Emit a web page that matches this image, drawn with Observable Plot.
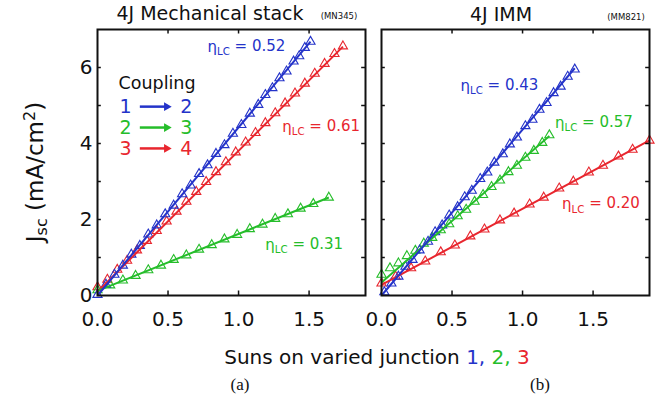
<!DOCTYPE html>
<html><head><meta charset="utf-8">
<script src="https://cdn.jsdelivr.net/npm/d3@7"></script>
<script src="https://cdn.jsdelivr.net/npm/@observablehq/plot@0.6"></script>
<style>
html,body{margin:0;padding:0;background:#fff;}
#wrap{position:relative;width:668px;height:404px;overflow:hidden;font-family:"DejaVu Sans",sans-serif;color:#111;background:#fff;}
#chart{position:absolute;left:0;top:0;}
.ov{position:absolute;transform:translate(-50%,-50%);white-space:nowrap;line-height:1;}
</style></head><body><div id="wrap"><div id="chart"></div></div>
<script>
// ---------- data ----------
const panels = ["a", "b"];
const panelTitles = ["4J Mechanical stack", "4J IMM"];
const panelSamples = ["(MN345)", "(MM821)"];
const seriesColors = ["#2433c9", "#25bd2a", "#e8262e"]; // 1→2, 2→3, 3→4
const couplingFrom = ["1", "2", "3"];
const couplingTo = ["2", "3", "4"];

// Panel (a) 4J Mechanical stack: Jsc (mA/cm2) vs suns on varied junction
const a12_x = [0.00,0.06,0.12,0.18,0.24,0.30,0.36,0.42,0.48,0.54,0.60,0.66,0.72,0.78,0.84,0.90,0.96,1.02,1.08,1.14,1.19,1.24,1.29,1.34,1.39,1.43,1.47,1.51];
const a12_y = [0.02,0.29,0.55,0.79,1.08,1.31,1.61,1.85,2.14,2.37,2.67,2.90,3.20,3.43,3.73,3.96,4.26,4.49,4.79,5.02,5.28,5.46,5.72,5.90,6.16,6.30,6.52,6.68];
const a23_x = [0.00,0.09,0.18,0.27,0.36,0.45,0.54,0.63,0.72,0.81,0.90,0.99,1.08,1.17,1.26,1.35,1.44,1.53,1.64];
const a23_y = [0.14,0.27,0.40,0.52,0.67,0.79,0.94,1.06,1.21,1.33,1.48,1.60,1.75,1.87,2.02,2.14,2.29,2.41,2.58];
const a34_x = [0.00,0.07,0.14,0.21,0.28,0.35,0.42,0.49,0.56,0.63,0.70,0.77,0.84,0.91,0.98,1.05,1.12,1.19,1.26,1.33,1.40,1.47,1.54,1.61,1.68,1.74];
const a34_y = [0.22,0.42,0.68,0.92,1.19,1.44,1.70,1.95,2.21,2.47,2.73,2.99,3.25,3.51,3.77,4.03,4.28,4.54,4.80,5.06,5.32,5.58,5.84,6.10,6.36,6.56];
// Panel (b) 4J IMM
const b12_x = [0.02,0.07,0.12,0.17,0.22,0.27,0.33,0.38,0.43,0.48,0.54,0.59,0.64,0.70,0.75,0.80,0.86,0.91,0.96,1.02,1.07,1.12,1.17,1.22,1.27,1.32,1.37];
const b12_y = [0.09,0.32,0.50,0.76,0.94,1.19,1.42,1.67,1.85,2.11,2.33,2.59,2.76,3.07,3.24,3.50,3.72,3.98,4.16,4.46,4.63,4.89,5.07,5.33,5.50,5.76,5.95];
const b23_x = [0.00,0.06,0.12,0.18,0.24,0.30,0.36,0.42,0.48,0.54,0.60,0.66,0.72,0.78,0.84,0.90,0.96,1.02,1.08,1.14,1.19];
const b23_y = [0.55,0.72,0.85,1.04,1.18,1.37,1.52,1.72,1.88,2.09,2.26,2.47,2.65,2.86,3.03,3.25,3.42,3.63,3.81,4.02,4.22];
const b34_x = [0.00,0.10,0.21,0.31,0.42,0.52,0.63,0.73,0.84,0.94,1.05,1.15,1.26,1.36,1.47,1.57,1.68,1.78,1.90];
const b34_y = [0.32,0.50,0.72,0.90,1.14,1.32,1.56,1.74,1.98,2.16,2.40,2.58,2.82,3.00,3.24,3.42,3.66,3.84,4.08];

// linear fits [x1, y1, x2, y2] per coupling (1→2, 2→3, 3→4)
const fitA = [[0, 0.00, 1.51, 6.68], [0, 0.12, 1.64, 2.58], [0, 0.10, 1.74, 6.55]];
const fitB = [[0, 0.00, 1.37, 5.98], [0, 0.34, 1.19, 4.20], [0, 0.28, 1.90, 4.08]];
const etaA = [0.52, 0.31, 0.61];
const etaB = [0.43, 0.57, 0.20];

const xTicks = [0, 0.5, 1.0, 1.5];
const xInnerTicks = [0.5, 1.0, 1.5];
const yTicks = [0, 2, 4, 6];
const yInnerTicks = [1, 2, 3, 4, 5, 6];

// annotation anchors (data units)
const etaPosA = [[0.78, 6.53], [1.19, 1.32], [1.31, 4.42]];
const etaPosB = [[0.56, 5.50], [1.23, 4.53], [1.28, 2.39]];
const legendTitlePos = [0.149, 5.58];
const legendRowY = [4.97, 4.42, 3.87];
const legendFromX = 0.198, legendArrowX = [0.30, 0.49], legendToX = 0.63;

// ---------- build tables ----------
const raw = {a: [[a12_x, a12_y], [a23_x, a23_y], [a34_x, a34_y]], b: [[b12_x, b12_y], [b23_x, b23_y], [b34_x, b34_y]]};
const points = [];
for (const p of panels) raw[p].forEach(([xs, ys], c) => xs.forEach((x, i) => points.push({panel: p, c, color: seriesColors[c], x, y: ys[i]})));
const fits = [];
[["a", fitA], ["b", fitB]].forEach(([p, f]) => f.forEach(([x1, y1, x2, y2], c) => fits.push({panel: p, c, color: seriesColors[c], x1, y1, x2, y2})));
const etas = [];
[["a", etaA, etaPosA], ["b", etaB, etaPosB]].forEach(([p, e, pos]) => e.forEach((v, c) => etas.push({panel: p, color: seriesColors[c], x: pos[c][0], y: pos[c][1], label: "η = " + v.toFixed(2)})));
const legend = couplingFrom.map((f, i) => ({panel: "a", color: seriesColors[i], from: f, to: couplingTo[i], y: legendRowY[i]}));

// ---------- layout ----------
const W = 668, H = 404, mT = 29, mB = 109, mL = 97, mR = 18;
const PAD = 0.055;
const FH = H - mT - mB;
const BW = (W - mL - mR) / (2 - PAD) * (1 - PAD);
const T = 4.5;

const drawOrder = [2, 1, 0];
const plot = Plot.plot({
  width: W, height: H, marginTop: mT, marginBottom: mB, marginLeft: mL, marginRight: mR,
  x: {domain: [0, 1.9]},
  y: {domain: [0, 7]},
  fx: {domain: panels, paddingInner: PAD, paddingOuter: 0, axis: null},
  color: {type: "identity"},
  style: {fontFamily: "DejaVu Sans", fontSize: "20px", color: "#111", background: "transparent", overflow: "visible"},
  marks: [
    ...drawOrder.map(c => Plot.dot(points.filter(d => d.c === c), {fx: "panel", x: "x", y: "y", symbol: "triangle", r: 3.4, stroke: "color", strokeWidth: 1.1, fill: "none"})),
    ...drawOrder.map(c => Plot.link(fits.filter(d => d.c === c), {fx: "panel", x1: "x1", y1: "y1", x2: "x2", y2: "y2", stroke: "color", strokeWidth: 2})),
    Plot.text(etas, {fx: "panel", x: "x", y: "y", text: "label", fill: "color", textAnchor: "start", fontSize: 15}),
    Plot.text(["Coupling"], {fx: () => "a", x: () => legendTitlePos[0], y: () => legendTitlePos[1], text: d => d, textAnchor: "start", fontSize: 17.5, fill: "#111"}),
    Plot.text(legend, {fx: "panel", x: () => legendFromX, y: "y", text: "from", fill: "color", fontSize: 19}),
    Plot.text(legend, {fx: "panel", x: () => legendToX, y: "y", text: "to", fill: "color", fontSize: 19}),
    Plot.link(legend, {fx: "panel", x1: () => legendArrowX[0], x2: () => legendArrowX[1], y1: "y", y2: "y", stroke: "color", strokeWidth: 2.5}),
    Plot.dot(legend, {fx: "panel", x: () => legendArrowX[1], y: "y", symbol: "triangle2", rotate: 90, r: 4.2, fill: "color"}),
    Plot.ruleX(xInnerTicks, {x: d => d, insetTop: FH - T, stroke: "#111", strokeWidth: 1.5}),
    Plot.ruleX(xInnerTicks, {x: d => d, insetBottom: FH - T, stroke: "#111", strokeWidth: 1.5}),
    Plot.ruleY(yInnerTicks, {y: d => d, insetRight: BW - T, stroke: "#111", strokeWidth: 1.5}),
    Plot.ruleY(yInnerTicks, {y: d => d, insetLeft: BW - T, stroke: "#111", strokeWidth: 1.5}),
    Plot.frame({stroke: "#111", strokeWidth: 2}),
    Plot.axisX(xTicks, {tickSize: 0, tickPadding: 16, tickFormat: d3.format(".1f"), fontSize: 20, label: null, fill: "#111"}),
    Plot.axisY(yTicks, {tickSize: 0, tickPadding: 5, fontSize: 20, label: null, fill: "#111"})
  ]
});
document.getElementById("chart").appendChild(plot);

// subscript "LC" in η labels
d3.select(plot).selectAll("text").filter(function() { return this.textContent.startsWith("η = "); }).each(function() {
  const val = this.textContent.split("=")[1].trim();
  const s = d3.select(this);
  s.text(null);
  s.append("tspan").text("η");
  s.append("tspan").attr("font-size", "0.68em").attr("dy", "0.3em").text("LC");
  s.append("tspan").attr("dy", "-0.3em").text(" = " + val);
});

// ---------- text outside the frames ----------
const wrap = document.getElementById("wrap");
function place(html, x, y, css) {
  const d = document.createElement("div");
  d.className = "ov"; d.innerHTML = html;
  d.style.left = x + "px"; d.style.top = y + "px";
  if (css) d.style.cssText += css;
  wrap.appendChild(d);
}
place(panelTitles[0], 210, 13, "font-size:19px;");
place(panelSamples[0], 339, 16, "font-size:8.5px;");
place(panelTitles[1], 501, 14, "font-size:19px;");
place(panelSamples[1], 626, 17, "font-size:8.5px;");
place(`J<sub style="font-size:0.7em;vertical-align:-0.25em">sc</sub> (mA/cm<sup style="font-size:0.7em;vertical-align:0.5em">2</sup>)`, 36, 172, "font-size:23px;transform:translate(-50%,-50%) rotate(-90deg);");
place(`Suns on varied junction <span style="color:${seriesColors[0]}">1,</span> <span style="color:${seriesColors[1]}">2,</span> <span style="color:${seriesColors[2]}">3</span>`, 377, 357, "font-size:20px;");
place("(a)", 240, 384, "font-family:'Liberation Serif',serif;font-size:17px;");
place("(b)", 540, 384, "font-family:'Liberation Serif',serif;font-size:17px;");
</script></body></html>
